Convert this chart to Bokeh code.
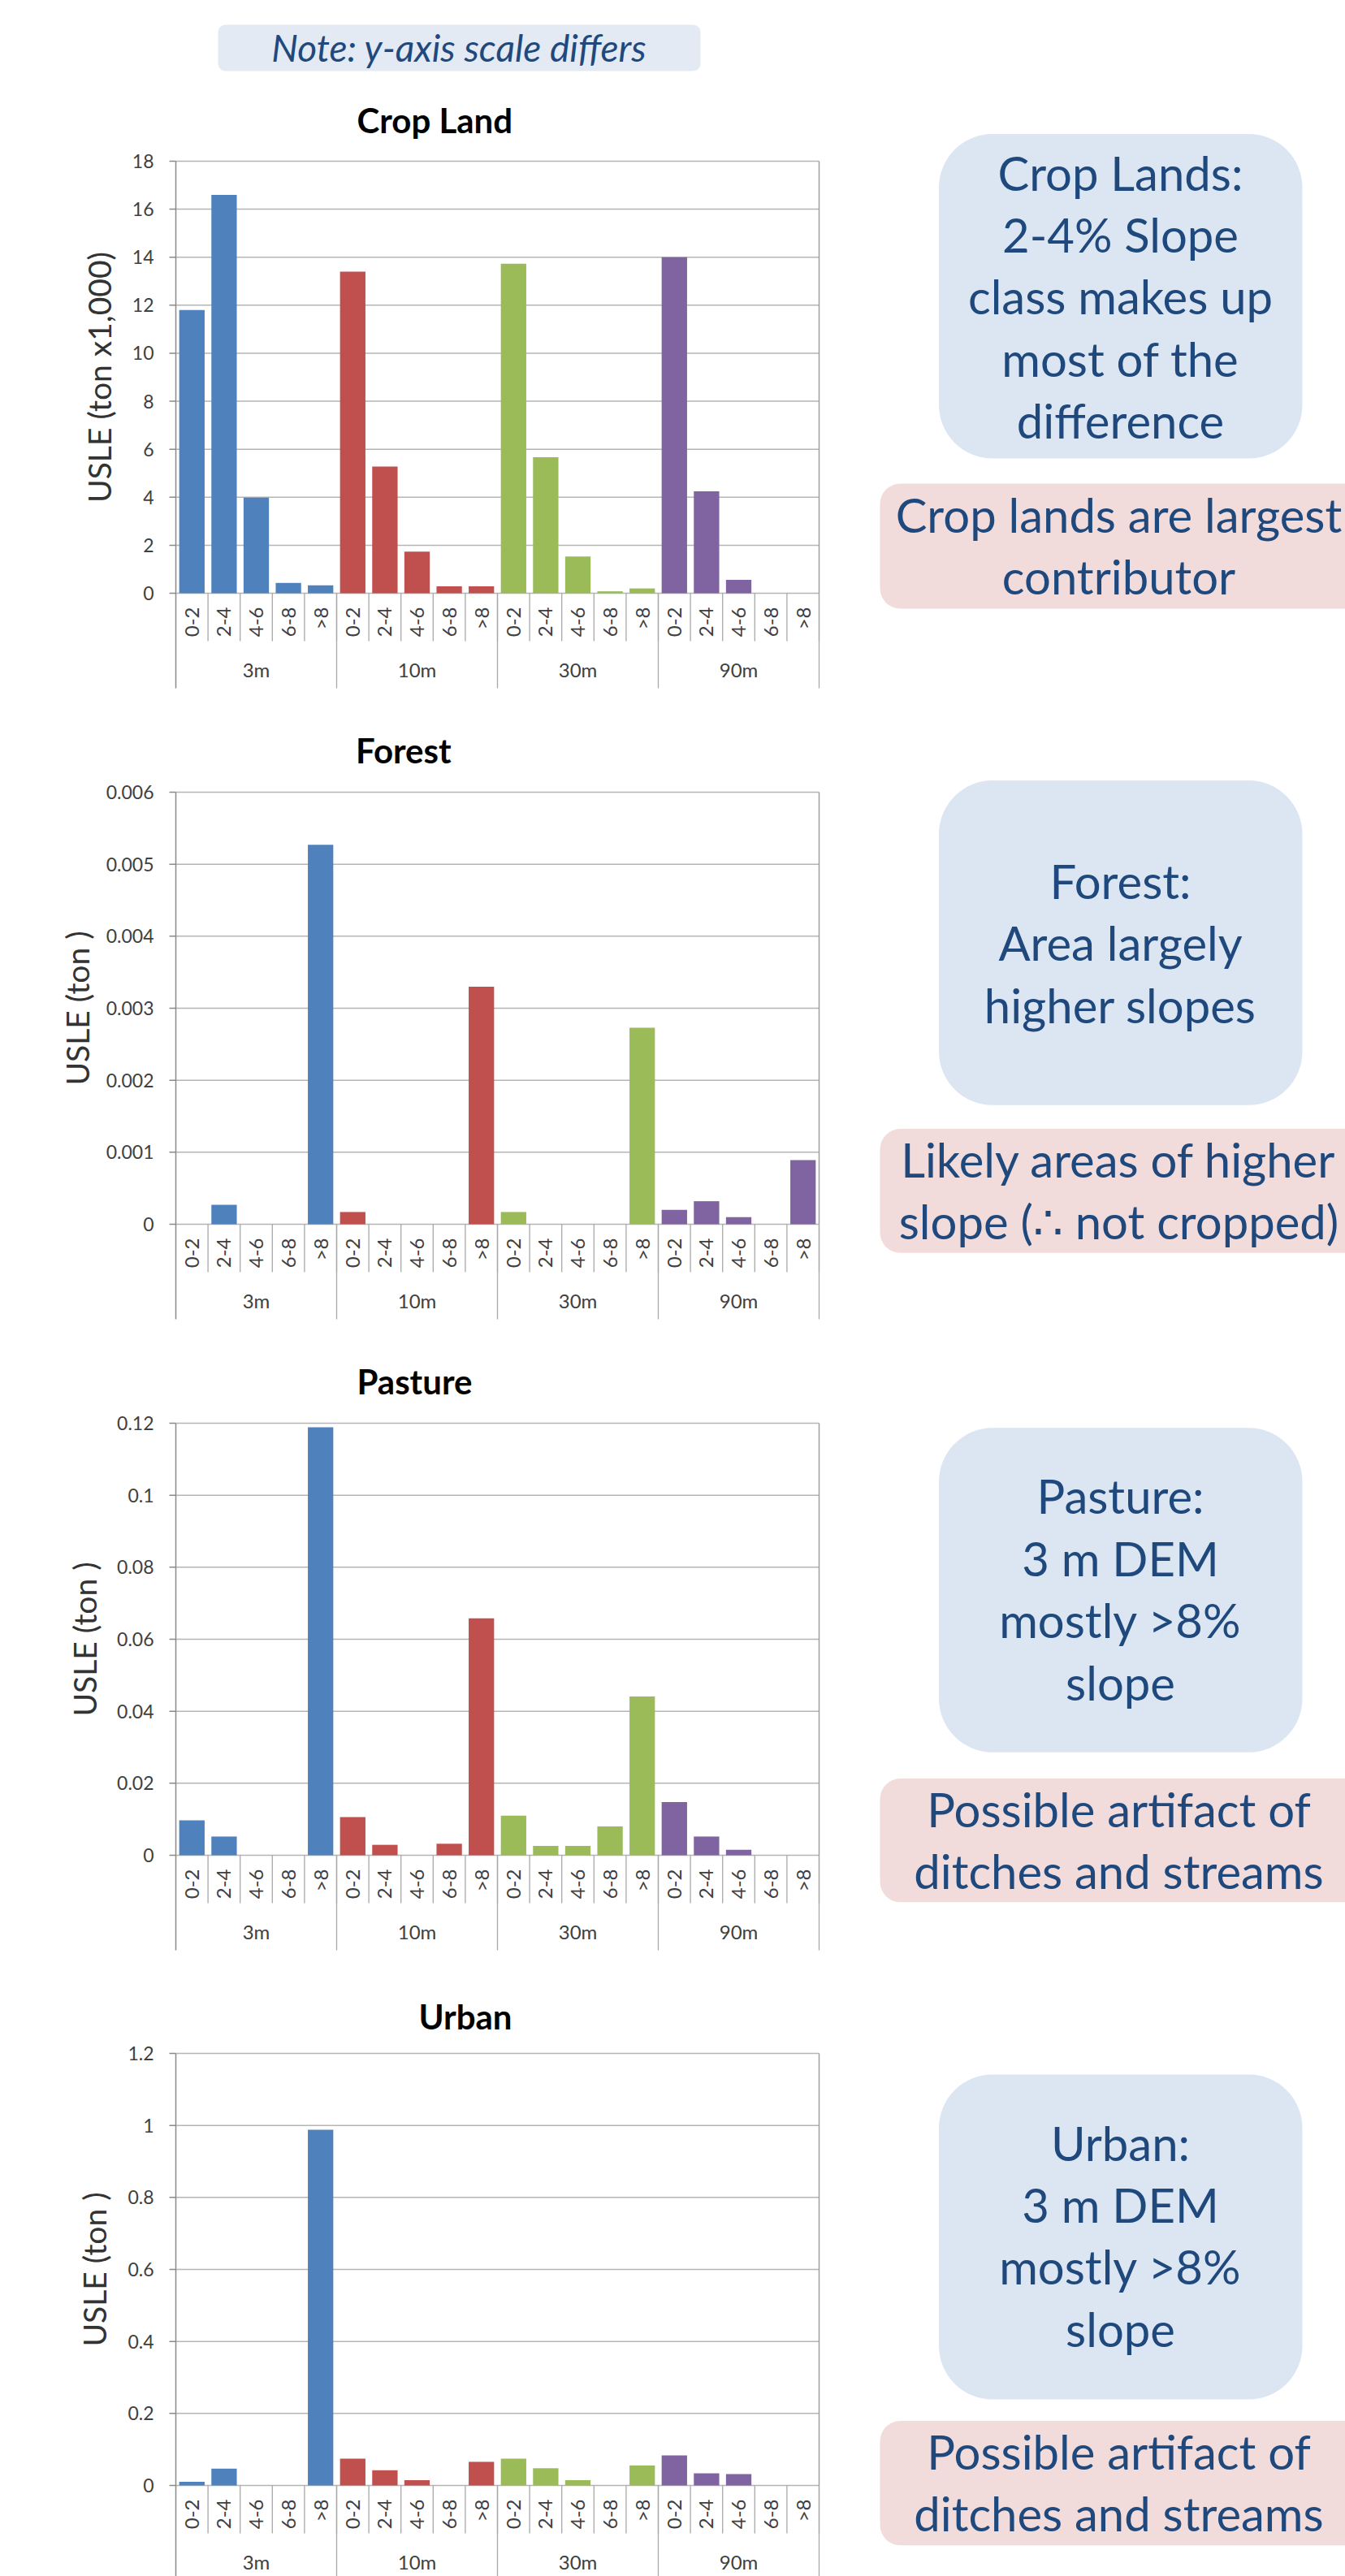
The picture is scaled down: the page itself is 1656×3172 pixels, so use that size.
import math
from bokeh.plotting import figure
from bokeh.models import Range1d
from bokeh.layouts import column
from bokeh.embed import file_html
from bokeh.resources import INLINE
from bokeh.core.properties import value

# ---------------- data ----------------
resolutions = ["3m", "10m", "30m", "90m"]
slope_classes = ["0-2", "2-4", "4-6", "6-8", ">8"]
resolution_colors = ["#4F81BD", "#C0504D", "#9BBB59", "#8064A2"]

crop_usle = [11.8, 16.6, 3.98, 0.43, 0.33,
             13.4, 5.28, 1.73, 0.29, 0.29,
             13.73, 5.67, 1.53, 0.08, 0.2,
             14.0, 4.25, 0.56, 0.0, 0.0]
forest_usle = [0.0, 0.00027, 0.0, 0.0, 0.00527,
               0.00017, 0.0, 0.0, 0.0, 0.0033,
               0.00017, 0.0, 0.0, 0.0, 0.00273,
               0.0002, 0.00032, 0.0001, 0.0, 0.00089]
pasture_usle = [0.0097, 0.0052, 0.0, 0.0, 0.1189,
                0.0106, 0.0029, 0.0, 0.0032, 0.0658,
                0.011, 0.0026, 0.0026, 0.008, 0.0441,
                0.0148, 0.0052, 0.0015, 0.0, 0.0]
urban_usle = [0.01, 0.0467, 0.0, 0.0, 0.988,
              0.0744, 0.0422, 0.0144, 0.0, 0.0656,
              0.0744, 0.0478, 0.0144, 0.0, 0.0556,
              0.0833, 0.0337, 0.0316, 0.0, 0.0]

crop_ticks = [0, 2, 4, 6, 8, 10, 12, 14, 16, 18]
crop_tick_labels = ["0", "2", "4", "6", "8", "10", "12", "14", "16", "18"]
forest_ticks = [0, 0.001, 0.002, 0.003, 0.004, 0.005, 0.006]
forest_tick_labels = ["0", "0.001", "0.002", "0.003", "0.004", "0.005", "0.006"]
pasture_ticks = [0, 0.02, 0.04, 0.06, 0.08, 0.1, 0.12]
pasture_tick_labels = ["0", "0.02", "0.04", "0.06", "0.08", "0.1", "0.12"]
urban_ticks = [0, 0.2, 0.4, 0.6, 0.8, 1.0, 1.2]
urban_tick_labels = ["0", "0.2", "0.4", "0.6", "0.8", "1", "1.2"]

chart_titles = ["Crop Land", "Forest", "Pasture", "Urban"]
y_labels = ["USLE (ton x1,000)", "USLE (ton )", "USLE (ton )", "USLE (ton )"]

note_text = "Note: y-axis scale differs"
crop_notes = ["Crop Lands:", "2-4% Slope", "class makes up", "most of the", "difference"]
crop_caveat = ["Crop lands are largest", "contributor"]
forest_notes = ["Forest:", "Area largely", "higher slopes"]
forest_caveat = ["Likely areas of higher", "slope (\u2234 not cropped)"]
pasture_notes = ["Pasture:", "3 m DEM", "mostly >8%", "slope"]
pasture_caveat = ["Possible artifact of", "ditches and streams"]
urban_notes = ["Urban:", "3 m DEM", "mostly >8%", "slope"]
urban_caveat = ["Possible artifact of", "ditches and streams"]

# ---------------- style / layout ----------------
FONT = "Lato"
TEXT_GRAY = "#404040"
GRID = "#B5B5B5"
AXIS = "#8A8A8A"
SEP = "#A8A8A8"
NAVY = "#1F497D"
BLUE_BOX = "#DCE6F2"
PINK_BOX = "#F2DCDB"
NOTE_BOX = "#E3EAF4"

PAGE_W = 1656
AX_LEFT = 216.0      # page x of the value axis
AX_RIGHT = 1008.0    # page x of the right plot border
PLOT_PX = 532.0      # height of the value area
N_SUB = len(slope_classes)
N = len(resolutions) * N_SUB
CAT_PX = (AX_RIGHT - AX_LEFT) / N
LINE = 76.4
BASE_SHIFT = 0.38    # anchor correction for alphabetic baselines (in em)

TITLE_FS = 42
NOTE_FS = 46
SIDE_FS = 58


def make_row(y_top, y_bot, chart, side, with_note=False):
    (title, ylabel, vals, ticks, tick_labels, zero_y, title_x, title_base, ylabel_x) = chart
    (notes, n_top, n_bot, n_base, caveat, c_top, c_bot, c_base) = side
    h = y_bot - y_top

    def fy(y):
        return y_bot - y

    def fb(baseline, fs):
        return fy(baseline - BASE_SHIFT * fs)

    ymax = ticks[-1]
    ppu = PLOT_PX / ymax
    p = figure(width=PAGE_W, height=h, x_range=Range1d(0, PAGE_W), y_range=Range1d(0, h),
               toolbar_location=None, output_backend="svg", x_axis_location=None,
               y_axis_location=None, min_border=0, outline_line_color=None,
               background_fill_color="white", border_fill_color="white")
    p.grid.visible = False
    p.extra_x_ranges = {"cat": Range1d(-AX_LEFT / CAT_PX, (PAGE_W - AX_LEFT) / CAT_PX)}
    p.extra_y_ranges = {"val": Range1d((zero_y - y_bot) / ppu, (zero_y - y_top) / ppu)}

    # gridlines at the value ticks
    nt = len(ticks)
    p.segment(x0=[0] * nt, x1=[N] * nt, y0=ticks, y1=ticks, x_range_name="cat",
              y_range_name="val", line_color=GRID, line_width=1.5)
    # tick marks and tick labels
    p.segment(x0=[-8 / CAT_PX] * nt, x1=[0] * nt, y0=ticks, y1=ticks, x_range_name="cat",
              y_range_name="val", line_color=AXIS, line_width=1.5)
    p.text(x=[-27 / CAT_PX] * nt, y=ticks, text=tick_labels, x_range_name="cat",
           y_range_name="val", text_align="right", text_baseline="middle",
           text_font=value(FONT), text_font_size="23px", text_color=TEXT_GRAY)

    # bars
    xs = [g * N_SUB + s + 0.5 for g in range(len(resolutions)) for s in range(N_SUB)]
    cols = [resolution_colors[g] for g in range(len(resolutions)) for s in range(N_SUB)]
    p.vbar(x=xs, top=vals, bottom=0, width=0.79, fill_color=cols, line_color=None,
           x_range_name="cat", y_range_name="val")

    # axis lines and category separators
    p.segment(x0=[0], x1=[0], y0=[fy(zero_y - PLOT_PX)], y1=[fy(zero_y + 117)],
              x_range_name="cat", line_color=AXIS, line_width=1.5)
    p.segment(x0=[N], x1=[N], y0=[fy(zero_y - PLOT_PX)], y1=[fy(zero_y)],
              x_range_name="cat", line_color="#A0A0A0", line_width=1.5)
    bx = list(range(1, N + 1))
    p.segment(x0=bx, x1=bx, y0=[fy(zero_y)] * len(bx), y1=[fy(zero_y + 59)] * len(bx),
              x_range_name="cat", line_color=SEP, line_width=1.3)
    gb = [g * N_SUB for g in range(1, len(resolutions) + 1)]
    p.segment(x0=gb, x1=gb, y0=[fy(zero_y)] * len(gb), y1=[fy(zero_y + 117)] * len(gb),
              x_range_name="cat", line_color=SEP, line_width=1.3)

    # category labels
    p.text(x=xs, y=[fy(zero_y + 17)] * N, text=slope_classes * len(resolutions),
           angle=math.pi / 2, text_align="right", text_baseline="middle", x_range_name="cat",
           text_font=value(FONT), text_font_size="24px", text_color=TEXT_GRAY)
    gx = [g * N_SUB + N_SUB / 2 for g in range(len(resolutions))]
    p.text(x=gx, y=[fy(zero_y + 94)] * len(gx), text=resolutions, text_align="center",
           text_baseline="middle", x_range_name="cat",
           text_font=value(FONT), text_font_size="24px", text_color=TEXT_GRAY)

    # chart title and value-axis title
    p.text(x=[title_x], y=[fb(title_base, TITLE_FS)], text=[title], text_align="left",
           text_baseline="alphabetic", text_font=value(FONT), text_font_size=f"{TITLE_FS}px",
           text_font_style="bold", text_color="#000000")
    p.text(x=[ylabel_x], y=[fy(zero_y - PLOT_PX / 2)], text=[ylabel], angle=math.pi / 2,
           text_align="center", text_baseline="middle", text_font=value(FONT),
           text_font_size="39px", text_color="#333333")

    # side call-outs
    p.quad(left=[1155.5], right=[1603], top=[fy(n_top)], bottom=[fy(n_bot)], border_radius=66,
           fill_color=BLUE_BOX, line_color=None)
    p.quad(left=[1083], right=[1690], top=[fy(c_top)], bottom=[fy(c_bot)], border_radius=25,
           fill_color=PINK_BOX, line_color=None)
    p.text(x=[1379] * len(notes), y=[fb(n_base + i * LINE, SIDE_FS) for i in range(len(notes))],
           text=notes, text_align="center", text_baseline="alphabetic", text_font=value(FONT),
           text_font_size=f"{SIDE_FS}px", text_color=NAVY)
    p.text(x=[1377] * len(caveat), y=[fb(c_base + i * LINE, SIDE_FS) for i in range(len(caveat))],
           text=caveat, text_align="center", text_baseline="alphabetic", text_font=value(FONT),
           text_font_size=f"{SIDE_FS}px", text_color=NAVY)

    if with_note:
        p.quad(left=[268], right=[862], top=[fy(30)], bottom=[fy(87)], border_radius=9,
               fill_color=NOTE_BOX, line_color=None)
        p.text(x=[565], y=[fb(75, NOTE_FS)], text=[note_text], text_align="center",
               text_baseline="alphabetic", text_font=value(FONT), text_font_size=f"{NOTE_FS}px",
               text_font_style="italic", text_color=NAVY)
    return p


r1 = make_row(0, 860,
              (chart_titles[0], y_labels[0], crop_usle, crop_ticks, crop_tick_labels,
               730, 439, 163.6, 121),
              (crop_notes, 164.5, 564, 233.7, crop_caveat, 595, 749, 655),
              with_note=True)
r2 = make_row(860, 1640,
              (chart_titles[1], y_labels[1], forest_usle, forest_ticks, forest_tick_labels,
               1507, 437.5, 939, 94),
              (forest_notes, 960.6, 1360.3, 1106, forest_caveat, 1389.6, 1542.2, 1449))
r3 = make_row(1640, 2415,
              (chart_titles[2], y_labels[2], pasture_usle, pasture_ticks, pasture_tick_labels,
               2284, 439, 1716.6, 103.5),
              (pasture_notes, 1757.8, 2157.2, 1863.4, pasture_caveat, 2189.6, 2341.8, 2249))
r4 = make_row(2415, 3172,
              (chart_titles[3], y_labels[3], urban_usle, urban_ticks, urban_tick_labels,
               3060, 515, 2498.5, 115),
              (urban_notes, 2554, 2954, 2659.7, urban_caveat, 2980.5, 3133.7, 3039.8))

layout = column(r1, r2, r3, r4)

with open("out.html", "w") as f:
    f.write(file_html(layout, INLINE))
